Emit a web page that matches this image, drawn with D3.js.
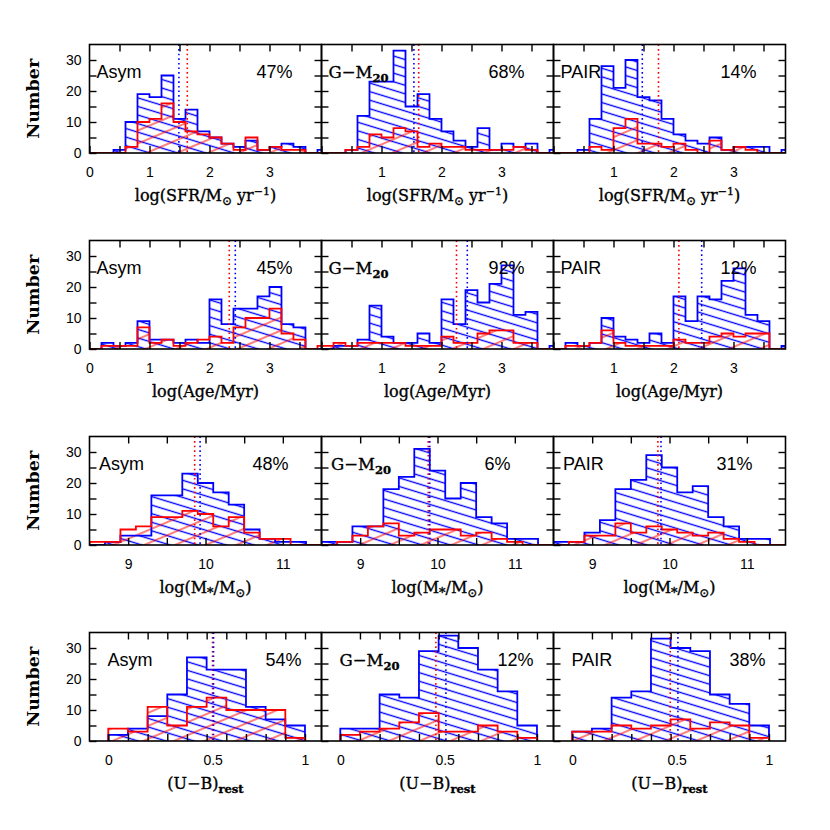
<!DOCTYPE html>
<html><head><meta charset="utf-8">
<script src="https://cdn.jsdelivr.net/npm/d3@7"></script>
<style>body{margin:0;background:#fff}</style>
</head><body>
<svg id="c" width="830" height="830"></svg>
<script>
// ---------- data ----------
const panelNames = ["Asym", "G−M20", "PAIR"];

const sfrBinStarts = [0.0,0.2,0.4,0.6,0.8,1.0,1.2,1.4,1.6,1.8,2.0,2.2,2.4,2.6,2.8,3.0,3.2,3.4,3.6,3.8];
const sfrAsymBlue = [0,0,1,10,19,18,25,11,14,7,5,3,2,4,1,2,3,2,0,1];
const sfrAsymRed  = [0,0,0,2,10,11,16,10,7,6,5,3,1,5,1,2,1,1,0,0];
const sfrGmBlue   = [0,0,1,12,23,23,33,15,19,11,7,4,2,8,1,3,2,3,0,1];
const sfrGmRed    = [0,0,1,2,6,5,8,7,2,3,2,2,1,1,1,1,2,1,0,0];
const sfrPairBlue = [0,0,1,11,28,21,30,18,17,11,6,4,3,5,1,2,2,2,0,1];
const sfrPairRed  = [0,0,0,2,1,8,11,3,3,2,3,1,0,4,1,2,1,0,0,0];
const sfrMedianBlue = [1.49, 1.54, 1.48];
const sfrMedianRed  = [1.63, 1.62, 1.75];
const sfrPercent = ["47%", "68%", "14%"];

const ageBinStarts = [0.0,0.2,0.4,0.6,0.8,1.0,1.2,1.4,1.6,1.8,2.0,2.2,2.4,2.6,2.8,3.0,3.2,3.4,3.6,3.8];
const ageAsymBlue = [0,2,1,2,9,3,3,2,3,2,16,8,13,13,17,20,8,7,0,0];
const ageAsymRed  = [0,1,1,1,7,2,3,1,2,3,4,2,7,10,10,13,5,3,0,1];
const ageGmBlue   = [0,1,1,3,14,4,2,2,5,2,16,8,19,15,21,27,11,12,0,1];
const ageGmRed    = [1,2,1,2,2,2,2,1,1,1,4,2,2,5,6,6,2,2,0,0];
const agePairBlue = [0,2,1,2,10,4,3,2,5,2,17,9,17,16,22,26,11,9,0,1];
const agePairRed  = [0,1,1,2,6,2,1,1,1,1,3,2,2,4,5,4,5,5,0,0];
const ageMedianBlue = [2.43, 2.43, 2.47];
const ageMedianRed  = [2.33, 2.25, 2.09];
const agePercent = ["45%", "92%", "12%"];

const massBinStarts = [8.5,8.7,8.9,9.1,9.3,9.5,9.7,9.9,10.1,10.3,10.5,10.7,10.9,11.1,11.3];
const massAsymBlue = [0,1,3,3,16,16,23,20,17,13,5,2,1,1,0];
const massAsymRed  = [1,1,5,6,9,9,11,10,6,9,4,2,2,0,0];
const massGmBlue   = [1,1,6,6,18,22,31,24,15,20,9,7,2,2,0];
const massGmRed    = [0,1,3,6,7,3,4,5,5,3,4,2,1,0,0];
const massPairBlue = [1,1,4,8,18,21,29,25,17,19,9,6,2,2,0];
const massPairRed  = [0,1,3,3,7,4,6,5,4,3,4,2,1,0,0];
const massMedianBlue = [9.93, 9.90, 9.89];
const massMedianRed  = [9.86, 9.88, 9.85];
const massPercent = ["48%", "6%", "31%"];

const ubBinStarts = [0.0,0.1,0.2,0.3,0.4,0.5,0.6,0.7,0.8,0.9];
const ubAsymBlue = [2,4,8,15,27,23,23,11,7,5];
const ubAsymRed  = [4,3,11,5,11,14,10,10,10,1];
const ubGmBlue   = [4,4,15,14,29,34,30,23,16,5];
const ubGmRed    = [2,3,4,6,9,3,3,5,3,1];
const ubPairBlue = [3,4,14,16,33,30,29,15,12,5];
const ubPairRed  = [3,3,5,4,5,7,4,6,5,1];
const ubMedianBlue = [0.535, 0.537, 0.537];
const ubMedianRed  = [0.530, 0.486, 0.498];
const ubPercent = ["54%", "12%", "38%"];

const logTicks = [0.5,1,1.5,2,2.5,3,3.5];
const logTickLabels = [0,1,2,3];
const massTicks = [9,9.5,10,10.5,11];
const massTickLabels = [9,10,11];
const ubTicks = [0.1,0.2,0.3,0.4,0.5,0.6,0.7,0.8,0.9,1.0];
const ubTickLabels = [0,0.5,1];
const yTicks = [5,10,15,20,25,30];
const yTickLabels = [0,10,20,30];

// ---------- layout ----------
const colX = [89.5, 321.5, 553.5], panelW = 232, panelH = 108.5;
const rowBottom = [153, 349, 545, 741];
const yMax = 35;
const serif = "'DejaVu Serif', 'Liberation Serif', serif";
const sans = "'Liberation Sans', Arial, sans-serif";

const rows = [
  {starts: sfrBinStarts, bw: 0.2, domain: [0, 3.867], ticks: logTicks, labels: logTickLabels,
   blue: [sfrAsymBlue, sfrGmBlue, sfrPairBlue], red: [sfrAsymRed, sfrGmRed, sfrPairRed],
   medB: sfrMedianBlue, medR: sfrMedianRed, pct: sfrPercent, nameOff: 7, pctOff: 167, title: "sfr"},
  {starts: ageBinStarts, bw: 0.2, domain: [0, 3.867], ticks: logTicks, labels: logTickLabels,
   blue: [ageAsymBlue, ageGmBlue, agePairBlue], red: [ageAsymRed, ageGmRed, agePairRed],
   medB: ageMedianBlue, medR: ageMedianRed, pct: agePercent, nameOff: 7, pctOff: 167, title: "age"},
  {starts: massBinStarts, bw: 0.2, domain: [8.5, 11.5], ticks: massTicks, labels: massTickLabels,
   blue: [massAsymBlue, massGmBlue, massPairBlue], red: [massAsymRed, massGmRed, massPairRed],
   medB: massMedianBlue, medR: massMedianRed, pct: massPercent, nameOff: 9.5, pctOff: 163, title: "mass"},
  {starts: ubBinStarts, bw: 0.1, domain: [-0.0955, 1.084], ticks: ubTicks, labels: ubTickLabels,
   blue: [ubAsymBlue, ubGmBlue, ubPairBlue], red: [ubAsymRed, ubGmRed, ubPairRed],
   medB: ubMedianBlue, medR: ubMedianRed, pct: ubPercent, nameOff: 18, pctOff: 176, title: "ub"}
];

const svg = d3.select("#c");
const defs = svg.append("defs");
function hatch(id, color, angle, gap, sw) {
  const p = defs.append("pattern").attr("id", id).attr("patternUnits", "userSpaceOnUse")
    .attr("width", 40).attr("height", gap).attr("patternTransform", `rotate(${angle})`);
  p.append("line").attr("x1", 0).attr("x2", 40).attr("y1", gap / 2).attr("y2", gap / 2)
    .attr("stroke", color).attr("stroke-width", sw);
}
hatch("hB", "#0000ff", 17, 8.2, 1.2);
hatch("hR", "#ff0000", -23, 12, 1.2);

function title(g, kind) {
  const t = g.append("text").attr("text-anchor", "middle").attr("font-family", serif)
    .attr("font-size", 16).attr("fill", "#000").attr("stroke", "#000").attr("stroke-width", 0.35);
  const sub = (s, bold, fs) => { t.append("tspan").attr("font-size", fs || 11).attr("dy", 4).attr("font-weight", bold ? "bold" : null).text(s); };
  const up = (s) => { t.append("tspan").attr("font-size", 11).attr("dy", -6).text(s); };
  const norm = (s, dy) => { t.append("tspan").attr("dy", dy || 0).text(s); };
  if (kind === "sfr") { norm("log(SFR/M"); sub("⊙", false, 12); norm(" yr", -4); up("−1"); norm(")", 6); }
  else if (kind === "age") { norm("log(Age/Myr)"); }
  else if (kind === "mass") { norm("log(M"); sub("*", false, 13); norm("/M", -4); sub("⊙", false, 12); norm(")", -4); }
  else { norm("(U−B)"); sub("rest", true, 11.5); }
  return t;
}

rows.forEach((row, ri) => {
  const bottom = rowBottom[ri], top = bottom - panelH;
  const y = d3.scaleLinear().domain([0, yMax]).range([bottom, top]);
  row.blue.forEach((_, ci) => {
    const left = colX[ci];
    const x = d3.scaleLinear().domain(row.domain).range([left, left + panelW]);
    const g = svg.append("g");
    const cid = `clip${ri}${ci}`;
    defs.append("clipPath").attr("id", cid).append("rect")
      .attr("x", left).attr("y", top).attr("width", panelW).attr("height", panelH);
    const inner = g.append("g").attr("clip-path", `url(#${cid})`);

    const pts = (counts) => {
      const p = row.starts.map((s, i) => [s, counts[i]]);
      p.push([row.starts[row.starts.length - 1] + row.bw, counts[counts.length - 1]]);
      return p;
    };
    const area = d3.area().curve(d3.curveStepAfter).x(d => x(d[0])).y0(y(0)).y1(d => y(d[1]));
    const line = d3.line().curve(d3.curveStepAfter).x(d => x(d[0])).y(d => y(d[1]));
    const outline = (counts) => {
      const p = pts(counts);
      return [[p[0][0], 0]].concat(p, [[p[p.length - 1][0], 0]]);
    };
    const bp = pts(row.blue[ci]), rp = pts(row.red[ci]);
    inner.append("path").attr("d", area(bp)).attr("fill", "url(#hB)");
    inner.append("path").attr("d", area(rp)).attr("fill", "url(#hR)");
    inner.append("path").attr("d", line(outline(row.blue[ci]))).attr("fill", "none")
      .attr("stroke", "#0000ff").attr("stroke-width", 1.8);
    inner.append("path").attr("d", line(outline(row.red[ci]))).attr("fill", "none")
      .attr("stroke", "#ff0000").attr("stroke-width", 1.8);

    // medians
    [[row.medR[ci], "#ff0000"], [row.medB[ci], "#0000ff"]].forEach(([m, c]) => {
      inner.append("line").attr("x1", x(m)).attr("x2", x(m)).attr("y1", top).attr("y2", bottom)
        .attr("stroke", c).attr("stroke-width", 1.6).attr("stroke-dasharray", "1.6,3");
    });

    // axes (inward ticks on all sides)
    const tickStyle = (sel) => { sel.select(".domain").remove();
      sel.selectAll(".tick line").attr("stroke", "#000").attr("stroke-width", 1.4); };
    const allX = row.ticks.concat(row.labels.filter(v => !row.ticks.includes(v)));
    const labelSet = row.labels.filter(v => !(ci > 0 && v === row.domain[0]));
    g.append("g").attr("transform", `translate(0,${bottom})`)
      .call(d3.axisBottom(x).tickValues(allX).tickSizeInner(-7).tickSizeOuter(0).tickPadding(14)
        .tickFormat(v => labelSet.includes(v) ? d3.format("")(v) : ""))
      .call(tickStyle)
      .call(s => s.selectAll("text").attr("font-family", sans).attr("font-size", 14).attr("fill", "#000")
        .attr("dx", d => (d === 0.5 && ri === 3) ? 6 : 0));
    g.append("g").attr("transform", `translate(0,${top})`)
      .call(d3.axisTop(x).tickValues(row.ticks).tickSizeInner(-7).tickSizeOuter(0).tickFormat(""))
      .call(tickStyle);
    g.append("g").attr("transform", `translate(${left},0)`)
      .call(d3.axisLeft(y).tickValues(yTickLabels.concat(yTicks.filter(v => !yTickLabels.includes(v))))
        .tickSizeInner(-7).tickSizeOuter(0).tickPadding(8)
        .tickFormat(v => (ci === 0 && yTickLabels.includes(v)) ? v : ""))
      .call(tickStyle)
      .call(s => s.selectAll("text").attr("font-family", sans).attr("font-size", 14).attr("fill", "#000"));
    g.append("g").attr("transform", `translate(${left + panelW},0)`)
      .call(d3.axisRight(y).tickValues(yTicks).tickSizeInner(-7).tickSizeOuter(0).tickFormat(""))
      .call(tickStyle);

    g.append("rect").attr("x", left).attr("y", top).attr("width", panelW).attr("height", panelH)
      .attr("fill", "none").attr("stroke", "#000").attr("stroke-width", 1.6);

    // panel labels
    const nm = panelNames[ci];
    if (nm.startsWith("G")) {
      const t = g.append("text").attr("x", left + row.nameOff).attr("y", top + 33)
        .attr("font-family", serif).attr("font-size", 16.5).attr("fill", "#000")
        .attr("stroke", "#000").attr("stroke-width", 0.35);
      t.append("tspan").text("G−M");
      t.append("tspan").attr("dy", 4).attr("font-size", 11.5).attr("font-weight", "bold").text("20");
    } else {
      g.append("text").attr("x", left + row.nameOff).attr("y", top + 33)
        .attr("font-family", sans).attr("font-size", 18).attr("fill", "#000").text(nm);
    }
    g.append("text").attr("x", left + row.pctOff).attr("y", top + 33)
      .attr("font-family", sans).attr("font-size", 18).attr("fill", "#000").text(row.pct[ci]);

    // x title
    title(g, row.title).attr("x", left + panelW / 2).attr("y", bottom + 48);
  });

  svg.append("text").attr("transform", `translate(39,${(top + bottom) / 2}) rotate(-90)`)
    .attr("text-anchor", "middle").attr("font-family", serif).attr("font-weight", "bold")
    .attr("font-size", 17.5).attr("fill", "#000").text("Number");
});
</script>
</body></html>
